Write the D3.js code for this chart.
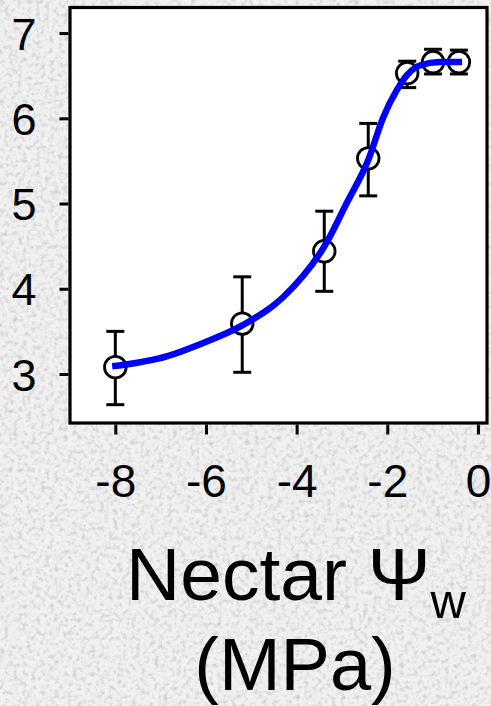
<!DOCTYPE html>
<meta charset="utf-8">
<style type="text/css">
body {
  margin: 0;
  background: #e6e6e6;
  font-family: "Liberation Sans", Arial, sans-serif;
}

.axis text {
  fill: #000;
}

.axis path {
  display: none;
}

.axis line {
  stroke: #000;
  stroke-width: 3px;
}
</style>
<body>
<script src="https://cdn.jsdelivr.net/npm/d3@7"></script>
<script>
// measured points: nectar water potential (MPa) vs response
var psi    = [-8.0, -5.20, -3.39, -2.42, -1.56, -0.99, -0.42];
var mean   = [3.08, 3.59, 4.44, 5.53, 6.53, 6.66, 6.66];
var errLo  = [2.64, 3.02, 3.97, 5.09, 6.36, 6.52, 6.52];
var errHi  = [3.50, 4.14, 4.91, 5.94, 6.67, 6.81, 6.80];

// fitted curve
var fitX = [-8.07, -6.85, -6.13, -5.20, -4.30, -3.33, -2.90, -2.42, -2.09, -1.79, -1.56, -1.28, -0.84, -0.35];
var fitY = [3.09, 3.21, 3.35, 3.57, 3.90, 4.55, 5.00, 5.51, 6.01, 6.33, 6.51, 6.62, 6.66, 6.66];

var xTicks = [-8, -6, -4, -2, 0];
var yTicks = [3, 4, 5, 6, 7];

var W = 491, H = 706;
var margin = { top: 7.5, right: 4, bottom: 283, left: 70 };
var width = W - margin.left - margin.right;
var height = H - margin.top - margin.bottom;

var root = d3.select("body")
  .append("svg")
    .attr("width", W)
    .attr("height", H)
    .style("display", "block");

// paper-like grey texture
var defs = root.append("defs");
var f = defs.append("filter")
    .attr("id", "grain")
    .attr("x", 0).attr("y", 0).attr("width", "100%").attr("height", "100%");
f.append("feTurbulence")
    .attr("type", "fractalNoise")
    .attr("baseFrequency", 0.22)
    .attr("numOctaves", 2)
    .attr("seed", 4)
    .attr("result", "noise");
f.append("feColorMatrix")
    .attr("type", "matrix")
    .attr("values", "0 0 0 0 0  0 0 0 0 0  0 0 0 0 0  0 0 0 -1.1 0.6");

root.append("rect")
    .attr("width", W).attr("height", H)
    .attr("fill", "#f0f0f0");
root.append("rect")
    .attr("width", W).attr("height", H)
    .attr("fill", "#000")
    .attr("filter", "url(#grain)")
    .attr("opacity", 0.3);

var svg = root.append("g")
    .attr("transform", "translate(" + margin.left + "," + margin.top + ")");

var xscale = d3.scaleLinear()
  .domain([-9, 0.2])
  .range([0, width]);

var yscale = d3.scaleLinear()
  .domain([2.425, 7.3])
  .range([height, 0]);

svg.append("rect")
    .attr("width", width)
    .attr("height", height)
    .attr("fill", "#fff")
    .attr("stroke", "#000")
    .attr("stroke-width", 3.2);

var xAxis = d3.axisBottom(xscale)
  .tickValues(xTicks)
  .tickSize(10)
  .tickPadding(30)
  .tickFormat(d3.format("d"));

var yAxis = d3.axisLeft(yscale)
  .tickValues(yTicks)
  .tickSize(9)
  .tickPadding(23)
  .tickFormat(d3.format("d"));

svg.append("g")
    .attr("class", "x axis")
    .attr("transform", "translate(0," + (height + 1.5) + ")")
    .call(xAxis)
    .selectAll("text")
      .style("font-size", "46px")
      .text(function(d) { return d < 0 ? "-" + Math.abs(d) : d; });

svg.append("g")
    .attr("class", "y axis")
    .attr("transform", "translate(-1.5,0)")
    .call(yAxis)
    .selectAll("text")
      .style("font-size", "45px")
      .attr("dy", "0.36em");

var pts = psi.map(function(x, i) {
  return { x: x, y: mean[i], lo: errLo[i], hi: errHi[i] };
});

// error bars
var eb = svg.append("g")
  .selectAll("g")
  .data(pts)
  .enter().append("g")
    .attr("stroke", "#000")
    .attr("stroke-width", 3);

eb.append("line")
    .attr("x1", function(d) { return xscale(d.x); })
    .attr("x2", function(d) { return xscale(d.x); })
    .attr("y1", function(d) { return yscale(d.lo); })
    .attr("y2", function(d) { return yscale(d.hi); });

eb.selectAll("line.cap")
    .data(function(d) { return [[d.x, d.lo], [d.x, d.hi]]; })
    .enter().append("line")
    .attr("class", "cap")
    .attr("x1", function(d) { return xscale(d[0]) - 9; })
    .attr("x2", function(d) { return xscale(d[0]) + 9; })
    .attr("y1", function(d) { return yscale(d[1]); })
    .attr("y2", function(d) { return yscale(d[1]); });

// circles
svg.append("g")
  .selectAll("circle")
  .data(pts)
  .enter().append("circle")
    .attr("cx", function(d) { return xscale(d.x); })
    .attr("cy", function(d) { return yscale(d.y); })
    .attr("r", 10.8)
    .attr("fill", "#fff")
    .attr("stroke", "#000")
    .attr("stroke-width", 2.8);

// fitted curve
var line = d3.line()
  .x(function(d, i) { return xscale(fitX[i]); })
  .y(function(d) { return yscale(d); })
  .curve(d3.curveMonotoneX);

svg.append("path")
    .datum(fitY)
    .attr("d", line)
    .attr("fill", "none")
    .attr("stroke", "#0000ff")
    .attr("stroke-width", 6.5);

// axis title
var title = root.append("text")
    .attr("x", 296)
    .attr("y", 600)
    .attr("text-anchor", "middle")
    .style("font-size", "75px")
    .attr("fill", "#000");
title.append("tspan").text("Nectar \u03A8");
title.append("tspan")
    .attr("dy", 18)
    .style("font-size", "49px")
    .text("w");

root.append("text")
    .attr("x", 295)
    .attr("y", 690)
    .attr("text-anchor", "middle")
    .style("font-size", "74px")
    .attr("fill", "#000")
    .text("(MPa)");
</script>
</body>
